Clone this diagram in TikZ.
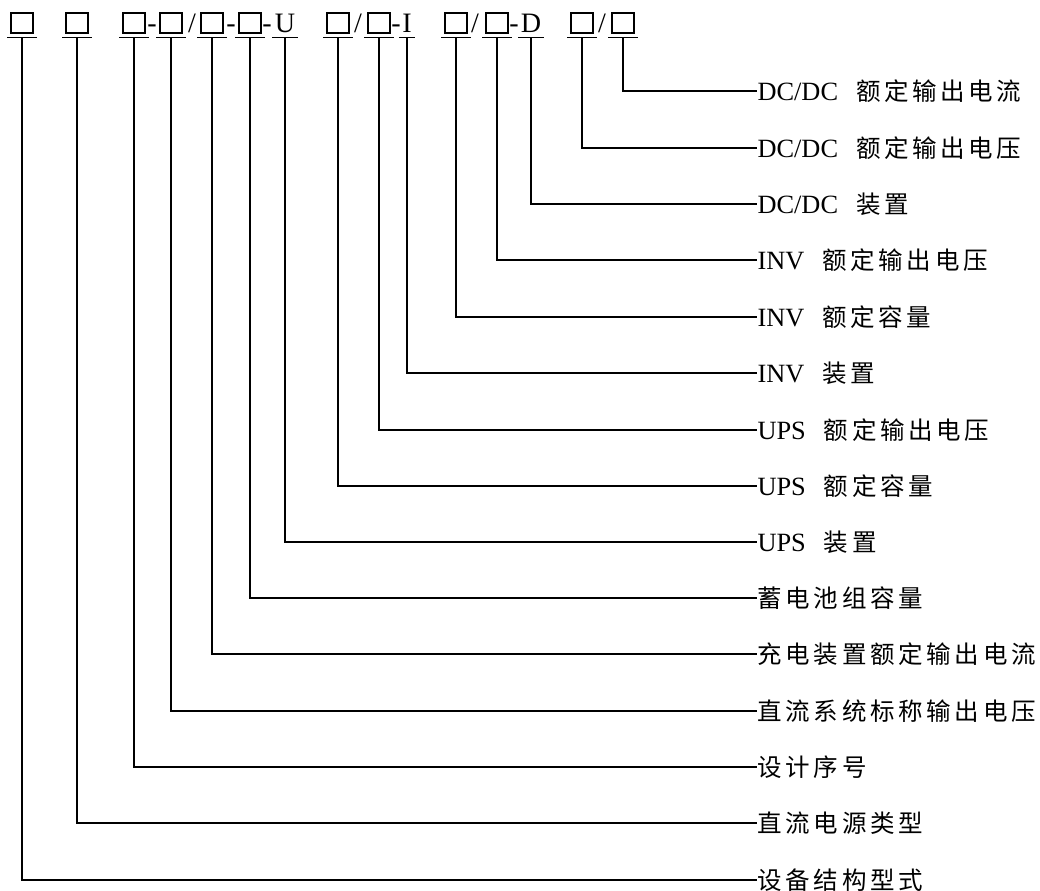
\documentclass[tikz,border=0pt]{standalone}
\usepackage{fontspec}
\setmainfont{Liberation Serif}
\newfontfamily\cjk[LetterSpace=15,Scale=0.93]{Noto Sans CJK SC}
\newcommand{\gap}{\hspace{0.36cm}}

\begin{document}
\begin{tikzpicture}[x=0.02cm, y=-0.02cm, line width=0.6pt,
	codebox/.style={draw, minimum width=0.44cm, minimum height=0.40cm, inner sep=0pt},
	codech/.style={inner sep=0pt, anchor=base, font=\fontsize{16pt}{18pt}\selectfont},
	lbl/.style={anchor=west, inner sep=0pt, font=\fontsize{15pt}{18pt}\selectfont}]

	\useasboundingbox (0,0) rectangle (1040,891);

	% code row
	\node[codebox] (b1) at (22,23) {};
	\node[codebox] (b2) at (77,23) {};
	\node[codebox] (b3) at (134,23) {};
	\node[codech] (s1) at (152,33) {-};
	\node[codebox] (b4) at (171,23) {};
	\node[codech] (s2) at (192,33) {/};
	\node[codebox] (b5) at (212,23) {};
	\node[codech] (s3) at (231,33) {-};
	\node[codebox] (b6) at (250,23) {};
	\node[codech] (s4) at (267,33) {-};
	\node[codech] (cu) at (285,33) {U};
	\node[codebox] (b7) at (338,23) {};
	\node[codech] (s5) at (358,33) {/};
	\node[codebox] (b8) at (379,23) {};
	\node[codech] (s6) at (396,33) {-};
	\node[codech] (ci) at (407,33) {I};
	\node[codebox] (b9) at (456,23) {};
	\node[codech] (s7) at (475,33) {/};
	\node[codebox] (b10) at (497,23) {};
	\node[codech] (s8) at (514,33) {-};
	\node[codech] (cd) at (531,33) {D};
	\node[codebox] (b11) at (582,23) {};
	\node[codech] (s9) at (602,33) {/};
	\node[codebox] (b12) at (623,23) {};

	% underlines
	\foreach \n in {b1,b2,b3,b4,b5,b6,b7,b8,b9,b10,b11,b12}
		\draw ([shift={(-3,4)}]\n.south west) -- ([shift={(3,4)}]\n.south east);
	\draw ([shift={(-2,4)}]cu.south west) -- ([shift={(2,4)}]cu.south east);
	\draw ([shift={(-3,4)}]ci.south west) -- ([shift={(3,4)}]ci.south east);
	\draw ([shift={(-2,4)}]cd.south west) -- ([shift={(2,4)}]cd.south east);

	% meanings
	\node[lbl] (l15) at (757,91) {DC/DC\gap{\cjk 额定输出电流}};
	\node[lbl] (l14) at (757,148) {DC/DC\gap{\cjk 额定输出电压}};
	\node[lbl] (l13) at (757,204) {DC/DC\gap{\cjk 装置}};
	\node[lbl] (l12) at (757,260) {INV\gap{\cjk 额定输出电压}};
	\node[lbl] (l11) at (757,317) {INV\gap{\cjk 额定容量}};
	\node[lbl] (l10) at (757,373) {INV\gap{\cjk 装置}};
	\node[lbl] (l9) at (757,430) {UPS\gap{\cjk 额定输出电压}};
	\node[lbl] (l8) at (757,486) {UPS\gap{\cjk 额定容量}};
	\node[lbl] (l7) at (757,542) {UPS\gap{\cjk 装置}};
	\node[lbl] (l6) at (757,598) {\cjk 蓄电池组容量};
	\node[lbl] (l5) at (757,654) {\cjk 充电装置额定输出电流};
	\node[lbl] (l4) at (757,711) {\cjk 直流系统标称输出电压};
	\node[lbl] (l3) at (757,767) {\cjk 设计序号};
	\node[lbl] (l2) at (757,823) {\cjk 直流电源类型};
	\node[lbl] (l1) at (757,880) {\cjk 设备结构型式};

	% leaders
	\draw ([yshift=-0.08cm]b1.south) |- (l1.west);
	\draw ([yshift=-0.08cm]b2.south) |- (l2.west);
	\draw ([yshift=-0.08cm]b3.south) |- (l3.west);
	\draw ([yshift=-0.08cm]b4.south) |- (l4.west);
	\draw ([yshift=-0.08cm]b5.south) |- (l5.west);
	\draw ([yshift=-0.08cm]b6.south) |- (l6.west);
	\draw ([yshift=-0.08cm]cu.south) |- (l7.west);
	\draw ([yshift=-0.08cm]b7.south) |- (l8.west);
	\draw ([yshift=-0.08cm]b8.south) |- (l9.west);
	\draw ([yshift=-0.08cm]ci.south) |- (l10.west);
	\draw ([yshift=-0.08cm]b9.south) |- (l11.west);
	\draw ([yshift=-0.08cm]b10.south) |- (l12.west);
	\draw ([yshift=-0.08cm]cd.south) |- (l13.west);
	\draw ([yshift=-0.08cm]b11.south) |- (l14.west);
	\draw ([yshift=-0.08cm]b12.south) |- (l15.west);
\end{tikzpicture}
\end{document}
